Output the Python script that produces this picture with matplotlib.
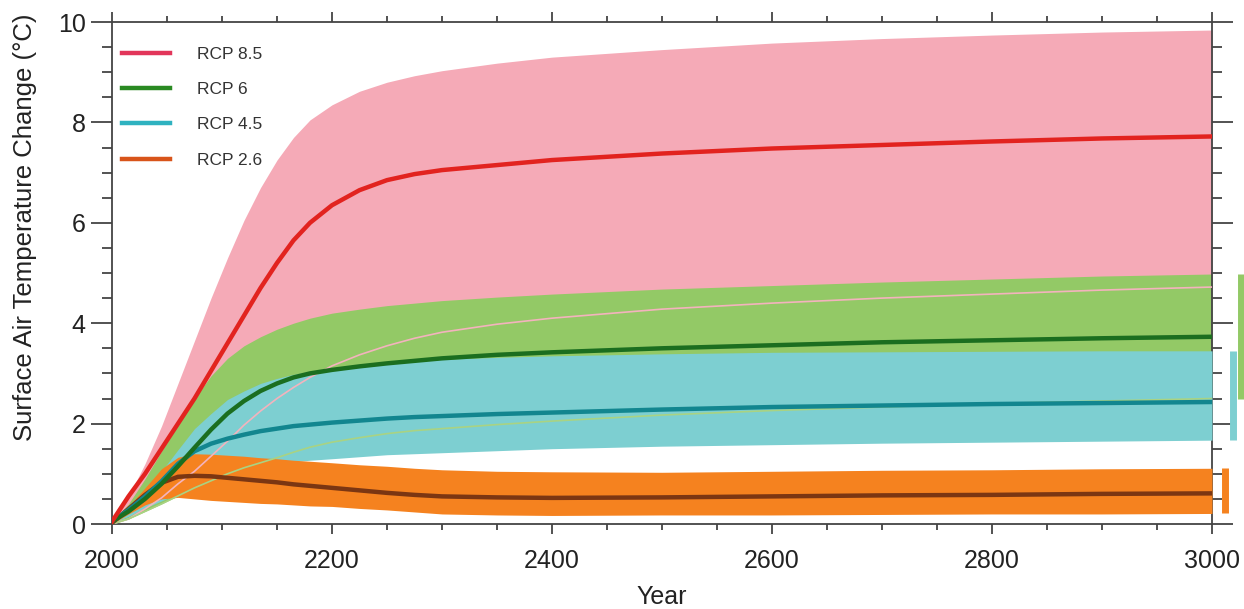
import matplotlib
matplotlib.use('Agg')
import matplotlib.pyplot as plt
from matplotlib.ticker import MultipleLocator
from matplotlib.lines import Line2D

plt.rcParams['font.family'] = ['Liberation Sans', 'DejaVu Sans']

# Years
years = [2000, 2015, 2030, 2045, 2060, 2075, 2090, 2105, 2120, 2135, 2150,
         2165, 2180, 2200, 2225, 2250, 2275, 2300, 2350, 2400, 2500, 2600,
         2700, 2800, 2900, 3000]

# RCP 8.5
rcp85_mean = [0.05, 0.55, 1.0, 1.5, 2.0, 2.5, 3.05, 3.6, 4.15, 4.7, 5.2,
              5.65, 6.0, 6.35, 6.65, 6.85, 6.97, 7.05, 7.15, 7.25, 7.38, 7.48,
              7.55, 7.62, 7.68, 7.72]
rcp85_hi = [0.05, 0.55, 1.2, 1.95, 2.8, 3.65, 4.5, 5.3, 6.05, 6.7, 7.25,
            7.7, 8.05, 8.35, 8.62, 8.8, 8.93, 9.03, 9.18, 9.3, 9.45, 9.58,
            9.67, 9.74, 9.8, 9.84]
rcp85_lo = [0.0, 0.1, 0.3, 0.52, 0.8, 1.05, 1.35, 1.65, 1.97, 2.25, 2.5,
            2.72, 2.92, 3.15, 3.37, 3.55, 3.7, 3.82, 3.98, 4.1, 4.28, 4.4,
            4.5, 4.58, 4.66, 4.72]

# RCP 6
rcp60_mean = [0.05, 0.25, 0.5, 0.8, 1.15, 1.52, 1.88, 2.2, 2.45, 2.65, 2.8,
              2.92, 3.0, 3.07, 3.14, 3.2, 3.25, 3.3, 3.37, 3.42, 3.5, 3.56,
              3.62, 3.66, 3.7, 3.73]
rcp60_hi = [0.05, 0.4, 0.9, 1.45, 1.98, 2.5, 2.95, 3.3, 3.55, 3.73, 3.88,
            4.0, 4.1, 4.2, 4.28, 4.35, 4.4, 4.45, 4.52, 4.58, 4.68, 4.75,
            4.82, 4.88, 4.94, 4.98]
rcp60_lo = [0.0, 0.1, 0.25, 0.4, 0.56, 0.72, 0.86, 1.0, 1.12, 1.22, 1.32,
            1.43, 1.53, 1.63, 1.72, 1.8, 1.86, 1.9, 1.98, 2.05, 2.17, 2.26,
            2.33, 2.4, 2.45, 2.5]

# RCP 4.5
rcp45_mean = [0.05, 0.28, 0.55, 0.85, 1.2, 1.45, 1.6, 1.7, 1.78, 1.85, 1.9,
              1.95, 1.98, 2.02, 2.06, 2.1, 2.13, 2.15, 2.19, 2.22, 2.28, 2.33,
              2.36, 2.39, 2.41, 2.43]
rcp45_hi = [0.05, 0.3, 0.65, 1.05, 1.48, 1.9, 2.2, 2.48, 2.65, 2.8, 2.9,
            2.98, 3.04, 3.1, 3.15, 3.2, 3.24, 3.28, 3.32, 3.35, 3.39, 3.42,
            3.43, 3.44, 3.45, 3.45]
rcp45_lo = [0.02, 0.15, 0.32, 0.46, 0.6, 0.75, 0.88, 0.98, 1.07, 1.14, 1.2,
            1.24, 1.27, 1.3, 1.34, 1.38, 1.4, 1.42, 1.46, 1.5, 1.55, 1.58,
            1.61, 1.63, 1.65, 1.67]

# RCP 2.6
rcp26_mean = [0.02, 0.3, 0.58, 0.82, 0.94, 0.96, 0.95, 0.92, 0.89, 0.86, 0.83,
              0.79, 0.76, 0.72, 0.67, 0.62, 0.58, 0.55, 0.53, 0.52, 0.53, 0.55,
              0.57, 0.58, 0.6, 0.61]
rcp26_hi = [0.02, 0.35, 0.72, 1.1, 1.33, 1.4, 1.39, 1.37, 1.35, 1.32, 1.3,
            1.27, 1.25, 1.22, 1.18, 1.15, 1.11, 1.08, 1.05, 1.04, 1.03, 1.05,
            1.07, 1.08, 1.1, 1.11]
rcp26_lo = [0.0, 0.2, 0.38, 0.5, 0.53, 0.5, 0.47, 0.45, 0.43, 0.41, 0.4,
            0.38, 0.36, 0.35, 0.31, 0.28, 0.24, 0.2, 0.18, 0.17, 0.18, 0.18,
            0.19, 0.2, 0.2, 0.21]

labels = ['RCP 8.5', 'RCP 6', 'RCP 4.5', 'RCP 2.6']

fig = plt.figure(figsize=(12.44, 6.09), dpi=100)
ax = fig.add_axes([112 / 1244, 85 / 609, 1100 / 1244, 502 / 609])

# shaded ranges, drawn 8.5 first so the lower scenarios sit on top
ax.fill_between(years, rcp85_lo, rcp85_hi, color='#f5aab7', lw=0, zorder=1)
ax.fill_between(years, rcp60_lo, rcp60_hi, color='#93c966', lw=0, zorder=2)
ax.fill_between(years, rcp45_lo, rcp45_hi, color='#7dcfd1', lw=0, zorder=3)
ax.fill_between(years, rcp26_lo, rcp26_hi, color='#f5821f', lw=0, zorder=4)

# lower edges of the hidden ranges show through as thin lines
ax.plot(years, rcp85_lo, color='#f3b3bd', lw=1.2, zorder=5)
ax.plot(years, rcp60_lo, color='#a9d383', lw=1.2, zorder=5)

# ensemble means
ax.plot(years, rcp26_mean, color='#7b3612', lw=3.2, zorder=6)
ax.plot(years, rcp45_mean, color='#12868f', lw=3.2, zorder=7)
ax.plot(years, rcp60_mean, color='#1b6e1f', lw=3.2, zorder=8)
ax.plot(years, rcp85_mean, color='#e2231f', lw=3.2, zorder=9)

# ranges at year 3000 shown as bars outside the right axis
bar_x = [3012, 3019, 3026]
bar_lo = [rcp26_lo[-1], rcp45_lo[-1], rcp60_lo[-1]]
bar_hi = [rcp26_hi[-1], rcp45_hi[-1], rcp60_hi[-1]]
bar_col = ['#f5821f', '#7dcfd1', '#93c966']
for bx, lo, hi, c in zip(bar_x, bar_lo, bar_hi, bar_col):
    ax.plot([bx, bx], [lo, hi], color=c, lw=5, solid_capstyle='butt', clip_on=False)

ax.set_xlim(2000, 3000)
ax.set_ylim(0, 10)
ax.xaxis.set_major_locator(MultipleLocator(200))
ax.xaxis.set_minor_locator(MultipleLocator(50))
ax.yaxis.set_major_locator(MultipleLocator(2))
ax.yaxis.set_minor_locator(MultipleLocator(0.5))

axis_col = '#444444'
for s in ax.spines.values():
    s.set_color(axis_col)
    s.set_linewidth(1.3)

ax.tick_params(which='both', direction='out', top=True, right=True, color=axis_col, width=1.3)
ax.tick_params(axis='x', which='major', length=7, pad=11, labelsize=18)
ax.tick_params(axis='x', which='minor', length=4)
ax.tick_params(axis='y', which='major', length=15, pad=4, labelsize=18)
ax.tick_params(axis='y', which='minor', length=7.5)
for lab in ax.get_xticklabels() + ax.get_yticklabels():
    lab.set_color('#222222')

ax.set_xlabel('Year', fontsize=18, color='#222222', labelpad=9)
fig.text(25 / 1244, 1 - 227 / 609, 'Surface Air Temperature Change (°C)',
         rotation=90, ha='center', va='center', fontsize=18.5, color='#222222')

handles = [Line2D([], [], color=c, lw=3.2)
           for c in ['#e2365a', '#2a8a22', '#2fb2c0', '#d8541a']]
ax.legend(handles, labels, loc='upper left', bbox_to_anchor=(0.009, 0.950),
          frameon=False, fontsize=12.5, handlelength=2.76, handletextpad=1.55,
          labelspacing=1.15, borderpad=0, borderaxespad=0, labelcolor='#333333')

fig.savefig('out.png', dpi=100)
